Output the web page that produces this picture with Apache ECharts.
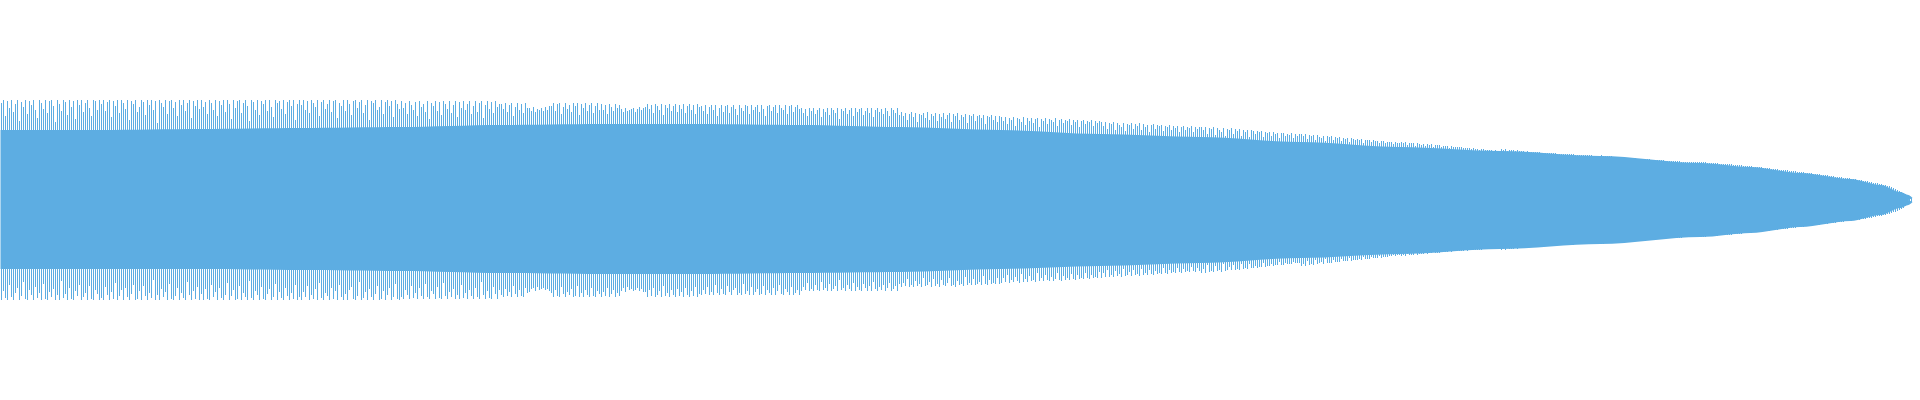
<!DOCTYPE html>
<html><head><meta charset="utf-8">
<script src="https://cdn.jsdelivr.net/npm/echarts@6/dist/echarts.min.js"></script>
<style>html,body{margin:0;padding:0;background:#fff}#c{width:1920px;height:400px}</style>
</head><body><div id="c"></div>
<script>
// Peak amplitude above the centre line for each sample column (upper half)
const peakTop = [
97,100,84,99,92,100,88,96,100,79,98,93,100,86,99,95,100,90,82,100,97,91,100,87,99,100,94,78,100,96,89,100,98,85,100,93,99,81,100,95,100,88,97,100,92,84,100,99,90,100,
96,100,89,98,100,83,99,94,100,87,100,97,91,100,80,99,96,100,88,93,100,98,85,100,95,100,90,99,77,100,97,93,100,86,99,100,92,98,84,100,95,100,89,97,100,82,99,94,100,91,
100,93,98,86,100,97,90,100,84,99,95,100,88,100,96,81,100,92,99,100,87,97,100,94,79,100,98,90,100,85,99,96,100,89,100,93,83,100,97,99,91,100,86,98,100,94,100,80,96,100,
95,100,90,99,87,100,97,93,100,84,98,100,91,96,100,88,99,100,82,97,94,100,89,100,96,85,99,100,92,98,100,87,95,100,80,99,97,100,90,93,100,86,98,100,94,99,83,100,96,91,
99,92,97,86,99,95,90,98,84,99,93,96,88,99,81,97,94,99,89,98,85,99,96,91,99,87,95,99,83,98,92,99,90,96,99,86,94,99,88,97,99,82,95,99,91,98,87,99,93,96,
96,91,97,88,95,97,84,93,97,90,96,87,97,92,92,89,93,88,91,90,92,89,93,90,94,94,97,89,96,97,86,93,97,91,95,88,97,94,97,85,96,92,97,89,95,97,87,94,97,90,
96,90,95,86,96,93,89,96,92,95,91,88,92,89,90,91,92,88,91,93,90,92,93,96,91,95,87,96,94,90,96,85,95,92,96,89,94,96,88,95,91,96,87,94,96,90,95,86,96,93,
94,89,95,86,93,95,90,95,84,92,95,88,94,95,87,93,95,91,85,95,92,89,95,94,86,95,90,93,95,88,95,91,84,94,95,89,93,95,87,95,92,90,95,86,94,95,88,93,95,91,
92,87,91,84,92,89,92,86,90,92,83,91,88,92,85,92,90,87,92,81,91,89,92,86,90,92,84,92,88,91,92,85,89,92,87,92,83,90,92,88,91,86,92,89,84,92,90,87,92,85,
88,84,87,80,86,88,83,87,78,86,85,87,82,88,80,86,84,87,79,86,83,87,81,85,87,78,86,84,87,80,85,83,86,77,85,84,86,79,84,85,82,85,76,84,83,85,80,84,78,84,
83,79,83,76,82,80,83,74,82,81,78,83,75,82,79,82,77,81,82,73,81,79,82,76,81,80,78,82,74,80,81,77,80,79,81,75,80,78,80,73,79,80,76,79,78,80,74,79,77,79,
78,74,78,71,77,76,78,70,77,75,73,77,69,76,75,77,71,76,74,77,70,76,73,75,68,75,76,71,75,74,75,69,74,73,75,70,74,72,74,68,73,74,70,73,72,74,68,73,71,73,
73,70,73,66,72,71,73,65,72,70,68,72,64,71,70,72,66,71,69,71,64,70,68,70,63,70,69,66,69,68,69,63,68,67,68,64,68,66,67,62,67,67,64,66,65,67,62,66,64,66,
66,64,66,61,65,64,65,60,65,63,62,64,59,64,63,64,60,63,62,63,59,62,61,62,58,62,61,60,61,60,61,57,60,60,60,58,60,59,59,57,59,59,57,58,58,58,56,58,57,57,
58,57,58,55,57,57,57,54,57,56,55,56,54,56,55,56,53,55,55,55,53,54,54,54,52,54,53,53,53,53,53,52,52,52,52,51,52,51,51,50,51,51,50,50,50,50,49,50,49,49,
51,50,51,49,50,50,50,49,50,49,49,49,48,49,48,48,48,48,48,48,47,47,47,47,47,47,47,47,46,46,46,46,46,46,46,46,46,45,45,45,45,45,45,45,45,45,44,44,44,44,
45,44,44,44,44,44,43,43,43,43,43,43,42,42,42,42,42,42,41,41,41,41,41,41,41,40,40,40,40,40,40,40,39,39,39,39,39,39,39,39,38,38,38,38,38,38,38,38,38,38,
38,38,38,37,37,37,37,37,37,36,36,36,36,36,36,36,35,35,35,35,35,34,34,34,34,34,33,33,33,33,33,32,32,32,32,31,31,31,31,30,30,30,30,30,29,29,29,29,28,28,
28,28,27,27,27,27,26,26,26,26,25,25,25,25,24,24,24,23,23,23,23,22,22,22,22,21,21,21,20,20,20,19,19,19,18,18,17,17,17,16,16,15,15,14,14,13,12,11,10,9,
8,7,6,5,3,2
];
// Peak amplitude below the centre line for each sample column (lower half, magnitude)
const peakBottom = [
100,91,98,100,85,97,100,93,88,100,96,82,99,100,90,95,100,87,98,93,100,84,99,100,92,97,89,100,95,100,81,98,94,100,88,99,100,91,96,85,100,97,93,100,86,99,100,90,94,100,
98,100,87,95,100,92,99,83,100,96,90,100,88,97,100,94,85,100,99,91,100,86,96,100,93,98,80,100,95,100,89,97,92,100,84,99,100,96,88,100,93,98,100,82,95,100,91,99,87,100,
94,100,89,99,100,85,97,92,100,88,98,100,95,83,100,96,90,100,99,86,100,93,97,100,81,98,100,91,95,100,87,99,100,94,89,100,97,84,100,92,98,100,88,96,100,93,99,85,100,97,
100,92,97,86,100,95,99,89,100,83,98,100,93,96,100,88,99,91,100,85,97,100,94,100,90,87,99,100,96,82,100,98,92,100,89,97,100,94,86,100,99,91,100,95,88,100,97,84,99,100,
97,99,90,95,99,86,98,93,99,88,96,99,84,97,99,91,94,99,87,98,99,83,96,99,92,97,89,99,95,99,85,98,93,99,90,96,99,88,97,99,82,95,99,91,98,99,87,94,99,90,
95,97,89,96,92,97,86,94,97,90,96,97,88,93,92,89,88,91,87,90,89,88,90,89,91,93,97,90,96,97,87,94,97,92,95,89,97,96,86,97,93,97,90,95,97,88,96,97,91,94,
97,92,96,88,97,94,90,97,93,96,91,88,92,87,90,89,91,90,88,91,89,92,92,97,90,96,88,97,95,91,97,86,96,93,97,90,95,97,89,96,92,97,88,95,97,91,96,87,97,94,
95,90,94,87,95,92,95,85,93,95,89,94,95,86,92,95,90,88,95,93,95,84,94,91,95,87,95,92,89,95,94,86,95,90,93,95,88,95,91,85,94,95,89,92,95,87,95,93,90,95,
91,87,90,83,91,89,91,85,90,91,82,90,88,91,84,91,89,86,91,80,90,88,91,85,89,91,83,91,87,90,91,84,88,91,86,91,82,89,91,87,90,85,91,88,83,91,89,86,91,84,
87,83,86,79,87,85,87,81,86,84,87,78,86,85,82,87,79,86,84,87,80,85,86,83,78,86,85,87,81,85,84,86,77,85,83,85,79,85,84,82,85,76,84,85,80,84,83,84,78,84,
83,78,82,75,83,80,82,77,81,83,74,82,79,82,76,81,80,82,73,81,78,81,75,80,81,77,81,79,73,80,81,76,80,78,80,74,79,80,75,79,78,79,73,78,79,75,78,77,78,72,
78,73,77,70,77,75,77,71,76,74,77,69,76,75,72,76,70,75,74,76,69,75,73,75,70,74,75,71,74,73,74,68,73,74,70,73,72,73,68,72,73,69,72,71,72,67,71,72,68,71,
73,69,73,65,72,71,72,66,71,70,72,64,71,70,67,70,65,70,69,70,64,69,68,69,64,68,68,66,68,67,67,63,67,66,66,64,66,65,65,62,65,65,63,64,64,64,62,63,63,63,
66,64,66,61,65,64,65,60,64,63,62,64,59,63,63,63,60,62,62,62,59,61,61,61,58,61,60,60,60,59,60,57,59,59,59,57,58,58,58,56,58,57,57,57,56,56,55,56,55,55,
56,55,56,54,55,55,55,53,55,54,54,54,53,54,53,53,52,53,53,53,52,52,52,52,51,52,51,51,51,51,51,51,50,51,50,50,50,50,50,50,50,49,49,49,49,49,49,49,48,48,
50,49,50,48,49,49,49,48,49,48,48,48,47,48,47,47,47,47,47,47,46,46,46,46,46,46,46,46,45,45,45,45,45,45,45,45,45,44,44,44,44,44,44,44,44,44,44,44,44,44,
44,44,43,43,43,43,43,42,42,42,42,42,42,41,41,41,41,41,41,40,40,40,40,40,40,40,39,39,39,39,39,39,39,38,38,38,38,38,38,38,38,37,37,37,37,37,37,37,37,37,
37,37,37,36,36,36,36,36,36,35,35,35,35,35,35,35,34,34,34,34,34,33,33,33,33,33,32,32,32,32,32,31,31,31,31,30,30,30,30,29,29,29,29,29,28,28,28,28,27,27,
27,27,26,26,26,26,25,25,25,25,24,24,24,24,23,23,23,23,22,22,22,22,21,21,21,21,20,20,20,20,19,19,19,18,18,18,17,17,16,16,16,15,15,14,14,13,12,12,11,10,
9,8,6,5,3,2
];
// Solid body of the waveform, sampled at a few sample positions
const coreX      = [0,50,100,150,200,250,300,350,400,450,500,550,600,650,700,750,800,850,875,900,925,940,950,954,956];
const coreTop    = [70,70,71,72,73,75,76,76,75,73,70,66,63,58,53,49,44,37,33,27,21,15,8,5,2];
const coreBottom = [69,69,69,70,71,73,74,74,73,72,69,66,63,58,54,49,44,37,33,27,21,15,8,5,2];

const COLOR = '#5dade2';
const categories = peakTop.map((_, i) => String(i));
const chart = echarts.init(document.getElementById('c'), null, {renderer: 'canvas'});
chart.setOption({
  animation: false,
  backgroundColor: '#ffffff',
  grid: {left: 0.5, top: 100, width: 1912, height: 200, containLabel: false},
  xAxis: [
    {type: 'category', data: categories, show: false, boundaryGap: true},
    {type: 'value', min: 0, max: peakTop.length, show: false}
  ],
  yAxis: [
    {type: 'value', min: -100, max: 100, show: false},
    {type: 'value', min: -100, max: 100, inverse: true, show: false}
  ],
  series: [
    {type: 'line', xAxisIndex: 1, yAxisIndex: 0, data: coreX.map((x, i) => [x, coreTop[i]]),
     smooth: 0.3, smoothMonotone: 'x', symbol: 'none', lineStyle: {width: 0}, areaStyle: {color: COLOR, opacity: 1}, silent: true, z: 2},
    {type: 'line', xAxisIndex: 1, yAxisIndex: 1, data: coreX.map((x, i) => [x, coreBottom[i]]),
     smooth: 0.3, smoothMonotone: 'x', symbol: 'none', lineStyle: {width: 0}, areaStyle: {color: COLOR, opacity: 1}, silent: true, z: 2},
    {type: 'bar', xAxisIndex: 0, yAxisIndex: 0, data: peakTop, barWidth: 1, barGap: '-100%',
     itemStyle: {color: COLOR}, silent: true, z: 3},
    {type: 'bar', xAxisIndex: 0, yAxisIndex: 1, data: peakBottom, barWidth: 1, barGap: '-100%',
     itemStyle: {color: COLOR}, silent: true, z: 3}
  ]
});
</script></body></html>
